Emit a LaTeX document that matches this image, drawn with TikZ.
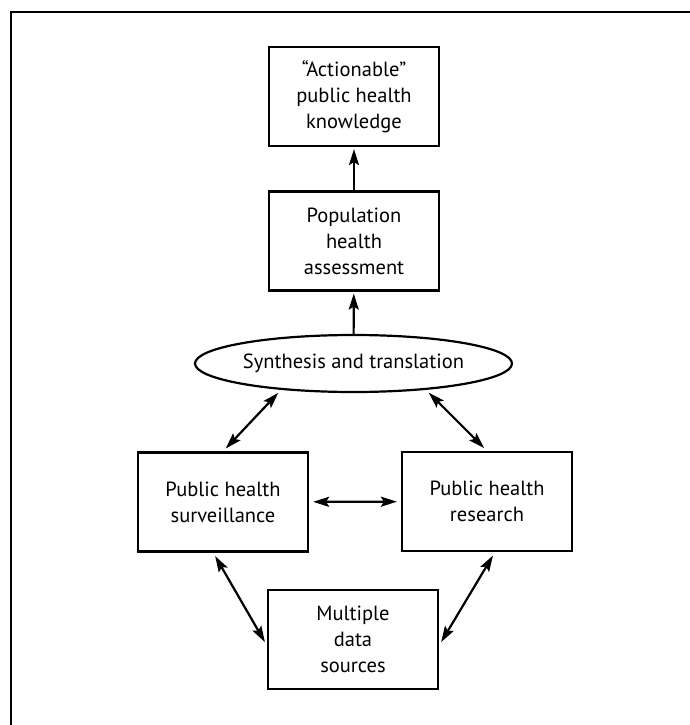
\documentclass[tikz,border=0pt]{standalone}
\usepackage{fontspec}
\setmainfont{PT Sans}
\usetikzlibrary{arrows.meta,shapes.geometric}

\begin{document}
\begin{tikzpicture}[x=1pt,y=-1pt,->,>={Stealth[length=16pt,width=10pt,inset=3pt]},
  shorten >=2pt,line width=2.2pt,
  box/.style={rectangle,draw,fill=white,align=center,
  font=\fontsize{20.5}{26}\selectfont,minimum width=170pt,minimum height=99pt,inner sep=2pt},
  oval/.style={ellipse,draw,fill=white,font=\fontsize{20.5}{26}\selectfont,
  minimum width=317pt,minimum height=57pt,inner sep=0pt}]

  \useasboundingbox (0,0) rectangle (690,725);
  \draw[-,line width=2.6pt,shorten >=0pt] (11,760) -- (11,12) -- (720,12);

  \node[box] (know) at (354,96.5) {“Actionable”\\public health\\knowledge};
  \node[box] (assess) at (354,241) {Population\\health\\assessment};
  \node[oval] (synth) at (353.5,363.5) {Synthesis and translation};
  \node[box] (surv) at (223,502) {Public health\\surveillance};
  \node[box] (research) at (487,501.5) {Public health\\research};
  \node[box] (data) at (353,639.5) {Multiple\\data\\sources};

  \path (assess) edge (know)
    (synth) edge (assess);

  % two-way links round the loop
  \path[<->,shorten <=4pt,shorten >=4pt]
    (surv.north) edge (synth.200)
    (research.north) edge (synth.340)
    (surv) edge (research)
    (surv.259) edge (data.184)
    (research.279) edge (data.356);

\end{tikzpicture}
\end{document}
